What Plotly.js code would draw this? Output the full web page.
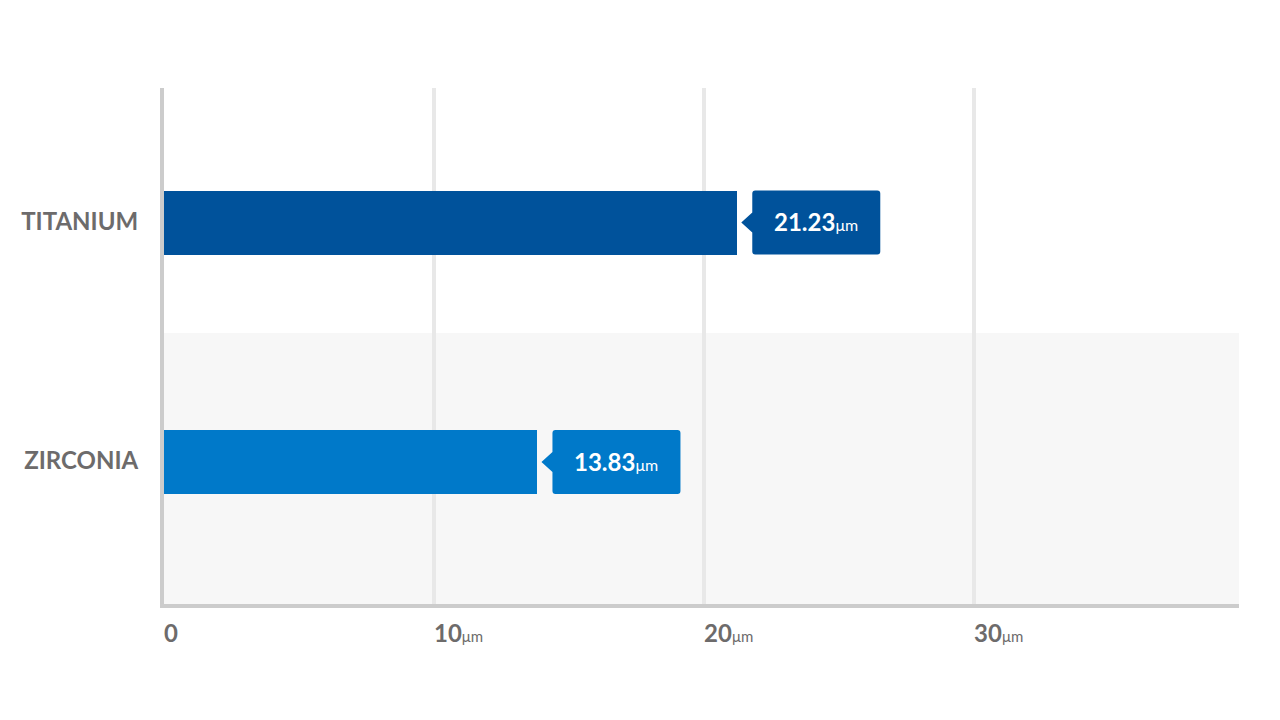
<!DOCTYPE html>
<html>
<head>
<meta charset="utf-8">
<script src="https://cdn.plot.ly/plotly-3.0.1.min.js"></script>
<style>html,body{margin:0;padding:0;background:#fff;}#chart{width:1280px;height:720px;}</style>
</head>
<body>
<div id="chart"></div>
<script>
const categories = ['TITANIUM', 'ZIRCONIA'];
const values = [21.23, 13.83];
const barColors = ['#00529b', '#0079c9'];
const tickValues = [0, 10, 20, 30];
const unit = 'μm';

const ypos = categories.map((c, i) => categories.length - 1 - i);

const trace = {
  type: 'bar',
  orientation: 'h',
  x: values,
  y: ypos,
  width: 0.267,
  marker: {color: barColors, line: {width: 0}},
  hoverinfo: 'skip'
};

const gap = 4, tipW = 11, boxW = 128, halfH = 32, triH = 10, r = 3;
function calloutPath() {
  const a = gap, b = gap + tipW, c = b + boxW;
  return `M ${a},0 L ${b},${triH} L ${b},${halfH - r} Q ${b},${halfH} ${b + r},${halfH} L ${c - r},${halfH} Q ${c},${halfH} ${c},${halfH - r} L ${c},${-halfH + r} Q ${c},${-halfH} ${c - r},${-halfH} L ${b + r},${-halfH} Q ${b},${-halfH} ${b},${-halfH + r} L ${b},${-triH} Z`;
}

const shapes = [{
  type: 'rect', layer: 'below',
  xref: 'x domain', x0: 0, x1: 1,
  yref: 'y', y0: -0.593, y1: 0.539,
  fillcolor: '#f7f7f7', line: {width: 0}
}];
const annotations = [];
values.forEach((v, i) => {
  shapes.push({
    type: 'path', layer: 'above',
    xref: 'x', yref: 'y',
    xsizemode: 'pixel', ysizemode: 'pixel',
    xanchor: v, yanchor: ypos[i],
    path: calloutPath(),
    fillcolor: barColors[i], line: {width: 0}
  });
  annotations.push({
    xref: 'x', yref: 'y', x: v, y: ypos[i],
    xanchor: 'center', yanchor: 'middle',
    xshift: gap + tipW + boxW / 2, yshift: 1,
    showarrow: false,
    text: `<b>${v.toFixed(2)}</b><span style="font-size:16px">${unit}</span>`,
    font: {family: 'Lato, sans-serif', size: 24, color: '#ffffff'}
  });
});

const layout = {
  width: 1280, height: 720,
  margin: {l: 164, r: 41, t: 88, b: 116},
  paper_bgcolor: '#ffffff', plot_bgcolor: 'rgba(0,0,0,0)',
  showlegend: false,
  bargap: 0,
  xaxis: {
    range: [0, 39.81],
    tickvals: tickValues,
    ticktext: tickValues.map(t => t === 0 ? '0' : `${t}<span style="font-size:15px;font-weight:normal">${unit}</span>`),
    ticklabelposition: 'outside right',
    ticks: '', ticklabelstandoff: 5, ticklabelshift: -2,
    tickfont: {family: 'Lato, sans-serif', size: 24, color: '#6d6b6b', weight: 'bold'},
    showgrid: true, gridcolor: '#e8e8e8', gridwidth: 4,
    zeroline: false,
    showline: true, linecolor: '#cccccc', linewidth: 4,
    fixedrange: true
  },
  yaxis: {
    range: [-0.593, 1.562],
    tickvals: ypos,
    ticktext: categories,
    ticks: '', ticklabelstandoff: 17, ticklabelshift: -1,
    tickfont: {family: 'Lato, sans-serif', size: 24, color: '#6d6b6b', weight: 'bold'},
    showgrid: false, zeroline: false,
    showline: true, linecolor: '#cccccc', linewidth: 4,
    fixedrange: true
  },
  shapes: shapes,
  annotations: annotations
};

Plotly.newPlot('chart', [trace], layout, {displayModeBar: false, staticPlot: true});
</script>
</body>
</html>
